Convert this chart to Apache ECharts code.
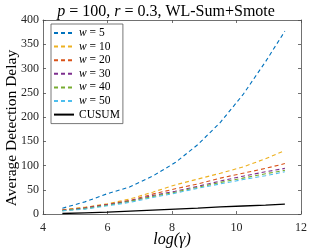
<!DOCTYPE html>
<html><head><meta charset="utf-8">
<script src="https://cdn.jsdelivr.net/npm/echarts@6/dist/echarts.min.js"></script>
<style>html,body{margin:0;padding:0;background:#fff}#c{width:332px;height:249px}</style>
</head><body><div id="c"></div>
<script>
const logGamma = [4.6, 5.3, 6.0, 6.7, 7.4, 8.1, 8.8, 9.5, 10.2, 10.9, 11.5];
const w5  = [12, 25, 42, 56, 78, 106, 143, 189, 246, 314, 377];
const w10 = [9, 14, 21, 31, 45, 60, 72, 84, 97, 114, 131];
const w20 = [8, 13, 20, 28, 41, 52, 62, 74, 84, 94, 104];
const w30 = [7.5, 12, 19, 27, 38, 47, 57, 68, 78, 87, 94];
const w40 = [7, 11, 18, 26, 36, 45, 55, 65, 74, 83, 90];
const w50 = [6.5, 10, 17, 24, 34, 43, 53, 62, 71, 79, 87];
const cusum = [1, 2.5, 4, 6, 8, 10, 12, 14.5, 16.5, 18.5, 20.5];
const seriesNames = ['w = 5', 'w = 10', 'w = 20', 'w = 30', 'w = 40', 'w = 50', 'CUSUM'];
const seriesData = [w5, w10, w20, w30, w40, w50, cusum];
const colors = ['#0072BD', '#EDB120', '#D95319', '#7E2F8E', '#77AC30', '#4DBEEE', '#000000'];
const xTicks = [4, 6, 8, 10, 12];
const yTicks = [0, 50, 100, 150, 200, 250, 300, 350, 400];

const serif = '"Liberation Serif", "DejaVu Serif", serif';
const axisCol = '#4d4d4d';
const chart = echarts.init(document.getElementById('c'), null, {renderer: 'canvas'});

const series = seriesNames.map((n, i) => ({
  name: n, type: 'line', symbol: 'none', showSymbol: false, xAxisIndex: 0, yAxisIndex: 0,
  data: logGamma.map((x, k) => [x, seriesData[i][k]]),
  lineStyle: {color: colors[i], width: i === 6 ? 1.3 : 1.1, type: i === 6 ? 'solid' : [4, 3]},
  itemStyle: {color: colors[i]},
  z: i === 0 ? 5 : 3
}));

function baseX(pos, labels) {
  return {
    type: 'value', position: pos, min: xTicks[0], max: xTicks[xTicks.length - 1], interval: 2,
    axisLine: {show: true, onZero: false, lineStyle: {color: axisCol, width: 0.8}},
    axisTick: {show: true, inside: true, length: 3, lineStyle: {color: axisCol, width: 0.8}},
    axisLabel: {show: labels, fontFamily: serif, fontSize: 12, color: '#262626', margin: 8},
    splitLine: {show: false}
  };
}
function baseY(pos, labels) {
  return {
    type: 'value', position: pos, min: yTicks[0], max: yTicks[yTicks.length - 1], interval: 50,
    axisLine: {show: true, onZero: false, lineStyle: {color: axisCol, width: 0.8}},
    axisTick: {show: true, inside: true, length: 3, lineStyle: {color: axisCol, width: 0.8}},
    axisLabel: {show: labels, fontFamily: serif, fontSize: 12, color: '#262626', margin: 4},
    splitLine: {show: false}
  };
}

chart.setOption({
  animation: false,
  backgroundColor: '#fff',
  grid: {left: 43, right: 31, top: 20, bottom: 35, containLabel: false, outerBoundsMode: 'none'},
  title: {
    text: '{i|p} = 100, {i|r} = 0.3, WL-Sum+Smote',
    left: 'center', top: 3, padding: 0,
    textStyle: {fontFamily: serif, fontSize: 16, fontWeight: 'normal', color: '#000', lineHeight: 17,
      rich: {i: {fontFamily: serif, fontSize: 16, fontStyle: 'italic', color: '#000', lineHeight: 17}}}
  },
  xAxis: [
    Object.assign(baseX('bottom', true), {
      name: 'log(γ)', nameLocation: 'middle', nameGap: 18, nameMoveOverlap: false,
      nameTextStyle: {fontFamily: serif, fontSize: 16, fontStyle: 'italic', color: '#000'}
    }),
    baseX('top', false)
  ],
  yAxis: [
    Object.assign(baseY('left', true), {
      name: '{t|Average Detection Delay}{s|}', nameLocation: 'middle', nameGap: 23, nameMoveOverlap: false,
      nameTextStyle: {fontFamily: serif, fontSize: 15.5, color: '#000',
        rich: {t: {fontFamily: serif, fontSize: 15.5, color: '#000'}, s: {width: 22}}}
    }),
    baseY('right', false)
  ],
  legend: {
    data: seriesNames,
    orient: 'vertical', left: 51, top: 24,
    itemWidth: 20, itemHeight: 10, itemGap: 1.6,
    padding: [3, 3, 3, 2],
    borderColor: '#555', borderWidth: 0.8, backgroundColor: '#fff',
    itemStyle: {opacity: 0},
    textStyle: {fontFamily: serif, fontSize: 11.5, color: '#000', lineHeight: 11,
      rich: {i: {fontFamily: serif, fontSize: 11.5, fontStyle: 'italic', color: '#000', lineHeight: 11},
             n: {fontFamily: serif, fontSize: 11.5, color: '#000', lineHeight: 11}}},
    formatter: function (name) {
      if (name.startsWith('w')) return '{i|w}{n|' + name.slice(1) + '}';
      return name;
    }
  },
  series: series
});
</script></body></html>
